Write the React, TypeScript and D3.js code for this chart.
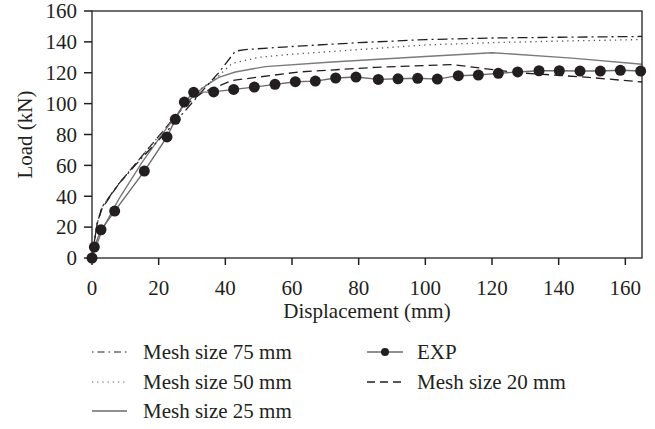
import React from "react";
import * as d3 from "d3";

const xTicks = [0, 20, 40, 60, 80, 100, 120, 140, 160];
const yTicks = [0, 20, 40, 60, 80, 100, 120, 140, 160];

const expX = [0, 0.7, 2.7, 6.8, 15.7, 22.5, 25, 27.7, 30.5, 36.5, 42.5, 48.7, 54.9, 61, 67, 73.1, 79.2, 85.9, 91.8, 97.7, 103.6, 109.9, 115.9, 121.9, 127.7, 134.1, 140.2, 146.4, 152.5, 158.5, 164.6];
const expY = [0, 7.1, 18.3, 30.4, 56.3, 78.4, 89.8, 101, 107.3, 107.6, 109.2, 110.7, 112.5, 114.2, 114.6, 116.6, 117.2, 115.7, 116.1, 116.4, 115.9, 118.1, 118.5, 119.6, 120.5, 121.3, 121.3, 121.1, 121.1, 121.6, 121.1];

const m75X = [0, 1.5, 3, 8, 15, 22, 28, 33, 38, 43, 46, 60, 80, 100, 120, 140, 165];
const m75Y = [0, 22, 33, 48, 65, 81, 95.5, 108, 120, 134, 135, 137, 139.5, 141.5, 142.5, 143, 143.5];

const m50X = [0, 1.5, 3, 8, 15, 22, 28, 33, 38, 42, 50, 60, 80, 100, 120, 140, 165];
const m50Y = [0, 22, 33, 48, 66, 84, 100, 110, 118, 126, 130, 132, 135, 138, 139.5, 140.5, 141.5];

const m25X = [0, 3, 8, 15, 22, 28, 33, 38, 43, 52, 72, 100, 120, 144, 165];
const m25Y = [0, 18, 38, 62, 83, 100, 110, 117, 120.5, 124, 127, 130.5, 133, 129.5, 125.5];

const m20X = [0, 1.5, 3, 8, 15, 22, 28, 33, 42, 62, 85, 108, 128, 149, 165];
const m20Y = [0, 22, 32, 48, 66, 84, 99, 107, 115, 120.5, 123.5, 125.3, 120, 117, 114];

const FONT = "'Liberation Serif', 'Times New Roman', serif";
const INK = "#231f20";

export default function App() {
  const left = 92, right = 642, top = 11, bottom = 258;
  const x = d3.scaleLinear().domain([0, 165]).range([left, right]);
  const y = d3.scaleLinear().domain([0, 160]).range([bottom, top]);
  const line = d3.line<[number, number]>().x(d => x(d[0])).y(d => y(d[1]));
  const zip = (a: number[], b: number[]) => a.map((v, i) => [v, b[i]] as [number, number]);

  const series = [
    { X: m20X, Y: m20Y, stroke: INK, dash: "9,5", w: 1.3 },
    { X: m25X, Y: m25Y, stroke: "#7a7a7a", dash: undefined, w: 1.4 },
    { X: m50X, Y: m50Y, stroke: "#555", dash: "1.3,4", w: 1.3 },
    { X: m75X, Y: m75Y, stroke: INK, dash: "10,4,2,4", w: 1.3 },
  ];

  const legendRows = [352, 382, 411];

  return (
    <svg width={655} height={429} style={{ position: "absolute", left: 0, top: 0, background: "#fff" }} fontFamily={FONT}>
      {series.map((s, i) => (
        <path key={i} d={line(zip(s.X, s.Y)) || ""} fill="none" stroke={s.stroke} strokeWidth={s.w} strokeDasharray={s.dash} />
      ))}
      <path d={line(zip(expX, expY)) || ""} fill="none" stroke="#6b6b6b" strokeWidth={1.4} />
      {expX.map((v, i) => (
        <circle key={i} cx={x(v)} cy={y(expY[i])} r={5.5} fill={INK} />
      ))}
      {/* frame */}
      <rect x={left} y={top} width={right - left} height={bottom - top} fill="none" stroke={INK} strokeWidth={1.3} />
      {xTicks.map(t => (
        <g key={t}>
          <line x1={x(t)} x2={x(t)} y1={bottom} y2={bottom + 7} stroke={INK} strokeWidth={1.5} />
          <text x={x(t)} y={295} textAnchor="middle" fontSize={21} fill={INK}>{t}</text>
        </g>
      ))}
      {yTicks.map(t => (
        <g key={t}>
          <line x1={left - 8} x2={left} y1={y(t)} y2={y(t)} stroke={INK} strokeWidth={1.5} />
          <text x={77} y={y(t)} dy="0.35em" textAnchor="end" fontSize={21} fill={INK}>{t}</text>
        </g>
      ))}
      <text x={(left + right) / 2} y={318} textAnchor="middle" fontSize={21} fill={INK}>Displacement (mm)</text>
      <text transform={`translate(32,${(top + bottom) / 2}) rotate(-90)`} textAnchor="middle" fontSize={21} fill={INK}>Load (kN)</text>

      {/* legend */}
      <line x1={92} x2={127} y1={legendRows[0]} y2={legendRows[0]} stroke={INK} strokeWidth={1.2} strokeDasharray="1.5,4,7,4" />
      <text x={143} y={legendRows[0]} dy="0.35em" fontSize={21} fill={INK}>Mesh size 75 mm</text>
      <line x1={92} x2={127} y1={legendRows[1]} y2={legendRows[1]} stroke="#555" strokeWidth={1.2} strokeDasharray="1.2,4" />
      <text x={143} y={legendRows[1]} dy="0.35em" fontSize={21} fill={INK}>Mesh size 50 mm</text>
      <line x1={92} x2={127} y1={legendRows[2]} y2={legendRows[2]} stroke="#6b6b6b" strokeWidth={1.4} />
      <text x={143} y={legendRows[2]} dy="0.35em" fontSize={21} fill={INK}>Mesh size 25 mm</text>

      <line x1={367} x2={403} y1={legendRows[0]} y2={legendRows[0]} stroke="#6b6b6b" strokeWidth={1.4} />
      <circle cx={385} cy={legendRows[0]} r={4} fill={INK} />
      <text x={417} y={legendRows[0]} dy="0.35em" fontSize={21} fill={INK}>EXP</text>
      <line x1={367} x2={403} y1={legendRows[1]} y2={legendRows[1]} stroke={INK} strokeWidth={1.3} strokeDasharray="8,5" />
      <text x={417} y={legendRows[1]} dy="0.35em" fontSize={21} fill={INK}>Mesh size 20 mm</text>
    </svg>
  );
}
